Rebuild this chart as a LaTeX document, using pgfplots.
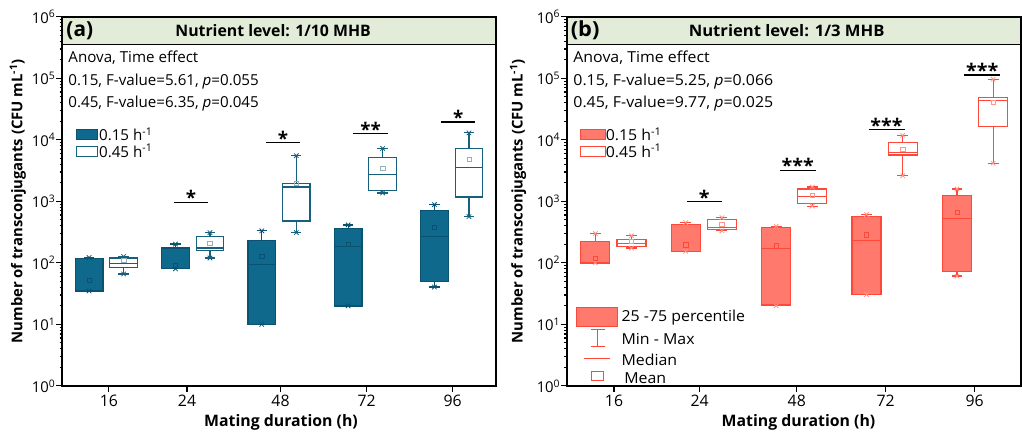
\documentclass[border=0pt]{standalone}
\usepackage{pgfplots}
\pgfplotsset{compat=1.18}
\usepackage{fontspec}
\setmainfont{Open Sans}
\newfontfamily\rfont{Open Sans}[FakeStretch=1.05]
\definecolor{tealf}{RGB}{14,105,140}
\definecolor{teale}{RGB}{10,82,112}
\definecolor{tealw}{RGB}{22,95,125}
\definecolor{tealm}{RGB}{150,175,185}
\definecolor{salf}{RGB}{255,122,108}
\definecolor{sale}{RGB}{255,72,58}
\definecolor{salm}{RGB}{255,150,140}
\definecolor{hdr}{RGB}{226,236,216}
% box: #1 fill, #2 edge, #3 position, #4 min, #5 q1, #6 median, #7 q3, #8 max
\newcommand{\bx}[8]{%
 \pgfmathsetmacro{\xl}{#3-0.16}\pgfmathsetmacro{\xr}{#3+0.16}%
 \pgfmathsetmacro{\cl}{#3-0.06}\pgfmathsetmacro{\cr}{#3+0.06}%
 \addplot[draw=#2, line width=1.2pt] coordinates {(#3,#4)(#3,#5)};
 \addplot[draw=#2, line width=1.2pt] coordinates {(#3,#7)(#3,#8)};
 \addplot[draw=#2, line width=1.2pt] coordinates {(\cl,#4)(\cr,#4)};
 \addplot[draw=#2, line width=1.2pt] coordinates {(\cl,#8)(\cr,#8)};
 \addplot[fill=#1, draw=#2, line width=1.3pt] coordinates {(\xl,#5)(\xr,#5)(\xr,#7)(\xl,#7)} -- cycle;
 \addplot[draw=#2, line width=1.2pt] coordinates {(\xl,#6)(\xr,#6)};
}
\pgfplotsset{/pgfplots/myaxpanel/.style={
  scale only axis, anchor=south west, height=373pt,
  ymin=1, ymax=1e6, xmin=0.49, xmax=5.51,
  axis line style={line width=1.7pt},
  tick align=outside, tick pos=left, major tick length=6pt,
  every tick/.style={black, line width=1.2pt},
  ytick={1,10,100,1000,10000,100000,1000000},
  yticklabels={10\textsuperscript{0},10\textsuperscript{1},10\textsuperscript{2},10\textsuperscript{3},10\textsuperscript{4},10\textsuperscript{5},10\textsuperscript{6}},
  yticklabel style={font=\fontsize{15}{15}\selectfont, inner sep=1pt},
  xticklabels={16,24,48,72,96},
  xticklabel style={font=\fontsize{16}{16}\selectfont},
  xlabel={Mating duration (h)},
  ylabel={Number of transconjugants (CFU mL\textsuperscript{-1})},
  xlabel style={font=\fontsize{16}{16}\selectfont\bfseries, anchor=center},
  ylabel style={font=\fontsize{15}{15}\selectfont\bfseries, anchor=center},
  minor tick num=0, clip=false,
}}
\tikzset{star/.style={anchor=south, inner sep=0pt, yshift=-3pt}}
\begin{document}
\begin{tikzpicture}
\begin{scope}[x=1pt,y=1pt]
\path[use as bounding box] (0,0) rectangle (1022,435);
\filldraw[fill=hdr, draw=black, line width=0.8pt] (63,390) rectangle (501,418);
\filldraw[fill=hdr, draw=black, line width=0.8pt] (573.3,390) rectangle (1032,418);
\end{scope}

% ---------------- panel (a)
\begin{axis}[ymode=log, myaxpanel, at={(63pt,45pt)}, width=438pt,
  xtick={1.029,1.934,3.017,4.014,5.011},
  xlabel style={at={(axis description cs:0.5046,-0.0984)}},
  ylabel style={at={(axis description cs:-0.1027,0.5)}}]
% 0.15 h-1
\bx{tealf}{teale}{0.8}{35}{35}{117}{117}{122}
\bx{tealf}{teale}{1.8}{80}{80}{80}{174}{202}
\bx{tealf}{teale}{2.8}{10}{10}{94}{234}{332}
\bx{tealf}{teale}{3.8}{20}{20}{185}{361}{414}
\bx{tealf}{teale}{4.8}{40.5}{50}{268}{711}{888}
% 0.45 h-1
\bx{white}{tealw}{1.2}{66}{85}{99}{120}{127}
\bx{white}{tealw}{2.2}{120}{161}{174}{265}{311}
\bx{white}{tealw}{3.2}{311}{480}{1710}{1932}{5530}
\bx{white}{tealw}{4.2}{1370}{1493}{2700}{5140}{7250}
\bx{white}{tealw}{5.2}{563}{1181}{3550}{7250}{12970}
% min/max marks
\addplot[only marks, mark=x, mark size=3.2pt, teale, line width=0.8pt] coordinates {
(0.8,35)(0.8,122)(1.8,80)(1.8,202)(2.8,10)(2.8,332)(3.8,20)(3.8,414)(4.8,40.5)(4.8,888)};
\addplot[only marks, mark=x, mark size=3.2pt, tealw, line width=0.8pt] coordinates {
(1.2,66)(1.2,127)(2.2,120)(2.2,311)(3.2,311)(3.2,5530)(4.2,1370)(4.2,7250)(5.2,563)(5.2,12970)};
% means
\addplot[only marks, mark=square, mark size=2.2pt, teale, line width=0.6pt] coordinates {
(0.8,52)(1.8,91)(2.8,127)(3.8,202)(4.8,375)};
\addplot[only marks, mark=square, mark size=2.2pt, tealm, line width=0.6pt] coordinates {
(1.2,110)(2.2,207)(3.2,1983)(4.2,3460)(5.2,4880)};
% significance
\addplot[black, line width=1.3pt] coordinates {(1.785,970)(2.175,970)};
\addplot[black, line width=1.3pt] coordinates {(2.85,9060)(3.24,9060)};
\addplot[black, line width=1.3pt] coordinates {(3.86,12640)(4.26,12640)};
\addplot[black, line width=1.3pt] coordinates {(4.88,19500)(5.27,19500)};
\node[star, font=\fontsize{19}{19}\selectfont\bfseries] at (axis cs:1.98,970) {*};
\node[star, font=\fontsize{19}{19}\selectfont\bfseries] at (axis cs:3.045,9060) {*};
\node[star, font=\fontsize{19}{19}\selectfont\bfseries] at (axis cs:4.06,12640) {**};
\node[star, font=\fontsize{19}{19}\selectfont\bfseries] at (axis cs:5.075,19500) {*};
\end{axis}

% ---------------- panel (b)
\begin{axis}[ymode=log, myaxpanel, at={(573.3pt,45pt)}, width=458.7pt, font=\rfont,
  xtick={1.007,1.954,3.028,4.012,4.995},
  xlabel style={at={(axis description cs:0.5095,-0.0984)}},
  ylabel style={at={(axis description cs:-0.1086,0.5)}}]
\bx{salf}{sale}{0.8}{100}{100}{100}{223}{300}
\bx{salf}{sale}{1.8}{154}{154}{154}{424}{451}
\bx{salf}{sale}{2.8}{20}{20.6}{172}{375}{393}
\bx{salf}{sale}{3.8}{30.5}{30.5}{229}{569}{613}
\bx{salf}{sale}{4.8}{61}{71.6}{528}{1240}{1588}
\bx{white}{sale}{1.2}{174}{183}{207}{243}{276}
\bx{white}{sale}{2.2}{332}{352}{375}{510}{543}
\bx{white}{sale}{3.2}{837}{929}{1213}{1588}{1710}
\bx{white}{sale}{4.2}{2600}{5660}{6250}{9060}{11860}
\bx{white}{sale}{5.2}{4160}{16600}{43400}{49200}{96900}
\addplot[only marks, mark=x, mark size=3.2pt, salm, line width=0.8pt] coordinates {
(0.8,100)(0.8,300)(1.8,154)(1.8,451)(2.8,20)(2.8,393)(3.8,30.5)(3.8,613)(4.8,61)(4.8,1588)
(1.2,174)(1.2,276)(2.2,332)(2.2,543)(3.2,837)(3.2,1710)(4.2,2600)(4.2,11860)(5.2,4160)(5.2,96900)};
\addplot[only marks, mark=square, mark size=2.2pt, sale, line width=0.6pt] coordinates {
(0.8,120)(1.8,197)(2.8,190)(3.8,286)(4.8,670)};
\addplot[only marks, mark=square, mark size=2.2pt, salm, line width=0.6pt] coordinates {
(1.2,223)(2.2,424)(3.2,1240)(4.2,6980)(5.2,40900)};
\addplot[black, line width=1.3pt] coordinates {(1.815,982)(2.197,982)};
\addplot[black, line width=1.3pt] coordinates {(2.84,3210)(3.237,3210)};
\addplot[black, line width=1.3pt] coordinates {(3.823,14650)(4.22,14650)};
\addplot[black, line width=1.3pt] coordinates {(4.879,113700)(5.28,113700)};
\node[star, font=\rfont\fontsize{19}{19}\selectfont\bfseries] at (axis cs:2.006,982) {*};
\node[star, font=\rfont\fontsize{19}{19}\selectfont\bfseries] at (axis cs:3.04,3210) {***};
\node[star, font=\rfont\fontsize{19}{19}\selectfont\bfseries] at (axis cs:4.02,14650) {***};
\node[star, font=\rfont\fontsize{19}{19}\selectfont\bfseries] at (axis cs:5.08,113700) {***};
\end{axis}

\begin{scope}[x=1pt,y=1pt]
% ---------------- annotations (a)
\node[anchor=west, inner sep=0pt, font=\fontsize{21}{21}\selectfont\bfseries] at (67,404) {(a)};
\node[inner sep=0pt, font=\fontsize{16}{16}\selectfont\bfseries] at (276,404) {Nutrient level: 1/10 MHB};
\begin{scope}[every node/.style={anchor=west, inner sep=0pt, font=\fontsize{15.3}{15.3}\selectfont}]
\node at (69,377) {Anova, Time effect};
\node at (69,353) {0.15, F-value=5.61, \textit{p}=0.055};
\node at (69,330) {0.45, F-value=6.35, \textit{p}=0.045};
\node at (100,299) {0.15 h\textsuperscript{-1}};
\node at (100,282.5) {0.45 h\textsuperscript{-1}};
\end{scope}
\filldraw[fill=tealf, draw=teale, line width=1pt] (77,294) rectangle (99,304);
\filldraw[fill=white, draw=tealw, line width=1pt] (77,277.3) rectangle (99,287.3);

% ---------------- annotations (b)
\node[anchor=west, inner sep=0pt, font=\rfont\fontsize{21}{21}\selectfont\bfseries] at (576.7,404) {(b)};
\node[inner sep=0pt, font=\rfont\fontsize{16}{16}\selectfont\bfseries] at (795,404) {Nutrient level: 1/3 MHB};
\begin{scope}[every node/.style={anchor=west, inner sep=0pt, font=\rfont\fontsize{15.3}{15.3}\selectfont}]
\node at (579.3,377) {Anova, Time effect};
\node at (579.3,353) {0.15, F-value=5.25, \textit{p}=0.066};
\node at (579.3,330) {0.45, F-value=9.77, \textit{p}=0.025};
\node at (612,299) {0.15 h\textsuperscript{-1}};
\node at (612,282.5) {0.45 h\textsuperscript{-1}};
\node at (628,114.3) {25 -75 percentile};
\node at (628,92.3) {Min - Max};
\node at (628,71.7) {Median};
\node at (630.7,53.3) {Mean};
\end{scope}
\filldraw[fill=salf, draw=sale, line width=1pt] (586.7,294) rectangle (611.7,304.3);
\filldraw[fill=white, draw=sale, line width=1pt] (586.7,277.3) rectangle (611.7,287.3);
\filldraw[fill=salf, draw=sale, line width=1pt] (582.7,105) rectangle (624.3,124);
\draw[sale, line width=1pt] (604,102.3) -- (604,85) (597,102.3) -- (611,102.3) (597,85) -- (611,85);
\draw[sale, line width=1pt] (590,72.3) -- (616.7,72.3);
\draw[sale, line width=1pt] (598,50) rectangle (610,59.3);
\end{scope}
\end{tikzpicture}
\end{document}
